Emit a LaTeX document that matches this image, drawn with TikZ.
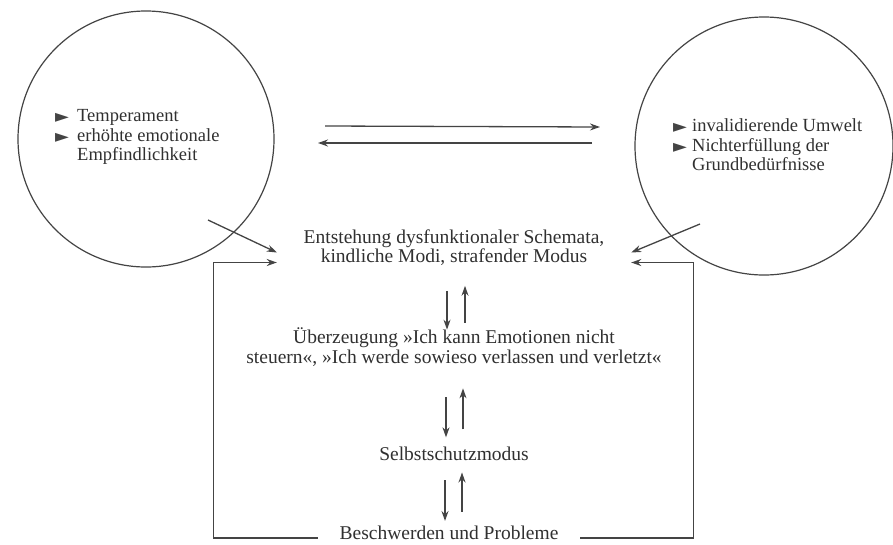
\documentclass[tikz,border=0pt]{standalone}
\usepackage{fontspec}
\setmainfont{Liberation Serif}
\newfontfamily\symb{DejaVu Sans}
\usetikzlibrary{arrows.meta,calc}
\definecolor{tinte}{HTML}{303030}
\definecolor{strich}{HTML}{444444}
\newcommand{\aufz}[1][22pt]{\makebox[#1][l]{\raisebox{-1pt}{\color{strich}\symb\fontsize{18}{12}\selectfont ►}}}

\begin{document}
\begin{tikzpicture}[x=1pt,y=-1pt]
\tikzstyle{kreis}=[draw=strich, line width=1.2pt, circle, inner sep=0pt]
\tikzstyle{feld}=[text=tinte, font=\fontsize{19.5}{19.5}\selectfont, align=center, inner sep=0pt]
\tikzstyle{liste}=[text=tinte, font=\fontsize{18.5}{19.5}\selectfont, align=left, inner sep=0pt, anchor=west]
\tikzstyle{pfeil}=[draw=strich, line width=1.3pt, -{Stealth[length=10pt,width=7pt]}]

\fill[white] (0,0) rectangle (893,544);
\useasboundingbox (0,0) rectangle (893,544);

% die beiden Kreise
\draw (146,139) node[kreis, minimum size=256pt] (temp) {};
\draw (764,146) node[kreis, minimum size=258pt] (umwelt) {};
\draw (55,137) node[liste] (templiste) {\aufz Temperament\\\aufz erhöhte emotionale\\\makebox[22pt]{}Empfindlichkeit};
\draw (673,145) node[liste] (umweltliste) {\aufz[19pt]invalidierende Umwelt\\\aufz[19pt]Nichterfüllung der\\\makebox[19pt]{}Grundbedürfnisse};

% mittlere Spalte
\draw (454,247.5) node[feld, minimum width=354pt] (schema) {Entstehung dysfunktionaler Schemata,\\kindliche Modi, strafender Modus};
\draw (454,347) node[feld] (ueberz) {Überzeugung »Ich kann Emotionen nicht\\steuern«, »Ich werde sowieso verlassen und verletzt«};
\draw (454,453.4) node[feld] (schutz) {Selbstschutzmodus};
\draw (449,533) node[feld, minimum width=262pt] (beschw) {Beschwerden und Probleme};

\coordinate (hinA) at (325,126);
\coordinate (hinB) at (600,127);
\coordinate (rueckA) at (592,143);
\coordinate (rueckB) at (318,143);
\coordinate (tempaus) at (208,220);
\coordinate (umweltaus) at (700,224);

\draw[pfeil] (hinA) -- (hinB);
\draw[pfeil] (rueckA) -- (rueckB);
\draw[pfeil] (tempaus) -- ($(schema.west)+(0,5)$);
\draw[pfeil] (umweltaus) -- ($(schema.east)+(0,5)$);

% Wechselwirkungen
\draw[pfeil, shorten <=25pt, shorten >=-2pt] ([xshift=-7pt]schema.south) -- ([xshift=-7pt]ueberz.north);
\draw[pfeil, shorten <=5pt, shorten >=20pt] ([xshift=11pt]ueberz.north) -- ([xshift=11pt]schema.south);
\draw[pfeil, shorten <=31pt, shorten >=9pt] ([xshift=-8pt]ueberz.south) -- ([xshift=-8pt]schutz.north);
\draw[pfeil, shorten <=17pt, shorten >=22pt] ([xshift=9pt]schutz.north) -- ([xshift=9pt]ueberz.south);
\draw[pfeil, shorten <=20pt, shorten >=5pt] ([xshift=-9pt]schutz.south) -- ([xshift=-9pt]schutz.south |- beschw.north);
\draw[pfeil, shorten <=14pt, shorten >=12pt] ([xshift=8pt]schutz.south |- beschw.north) -- ([xshift=8pt]schutz.south);

% Rueckkopplung
\draw[pfeil] ([yshift=-5pt]beschw.west) -| ($(schema.west)+(-63,15)$) -- ($(schema.west)+(0,15)$);
\draw[pfeil] ([yshift=-5pt]beschw.east) -| ($(schema.east)+(62,15)$) -- ($(schema.east)+(0,15)$);
\end{tikzpicture}
\end{document}
